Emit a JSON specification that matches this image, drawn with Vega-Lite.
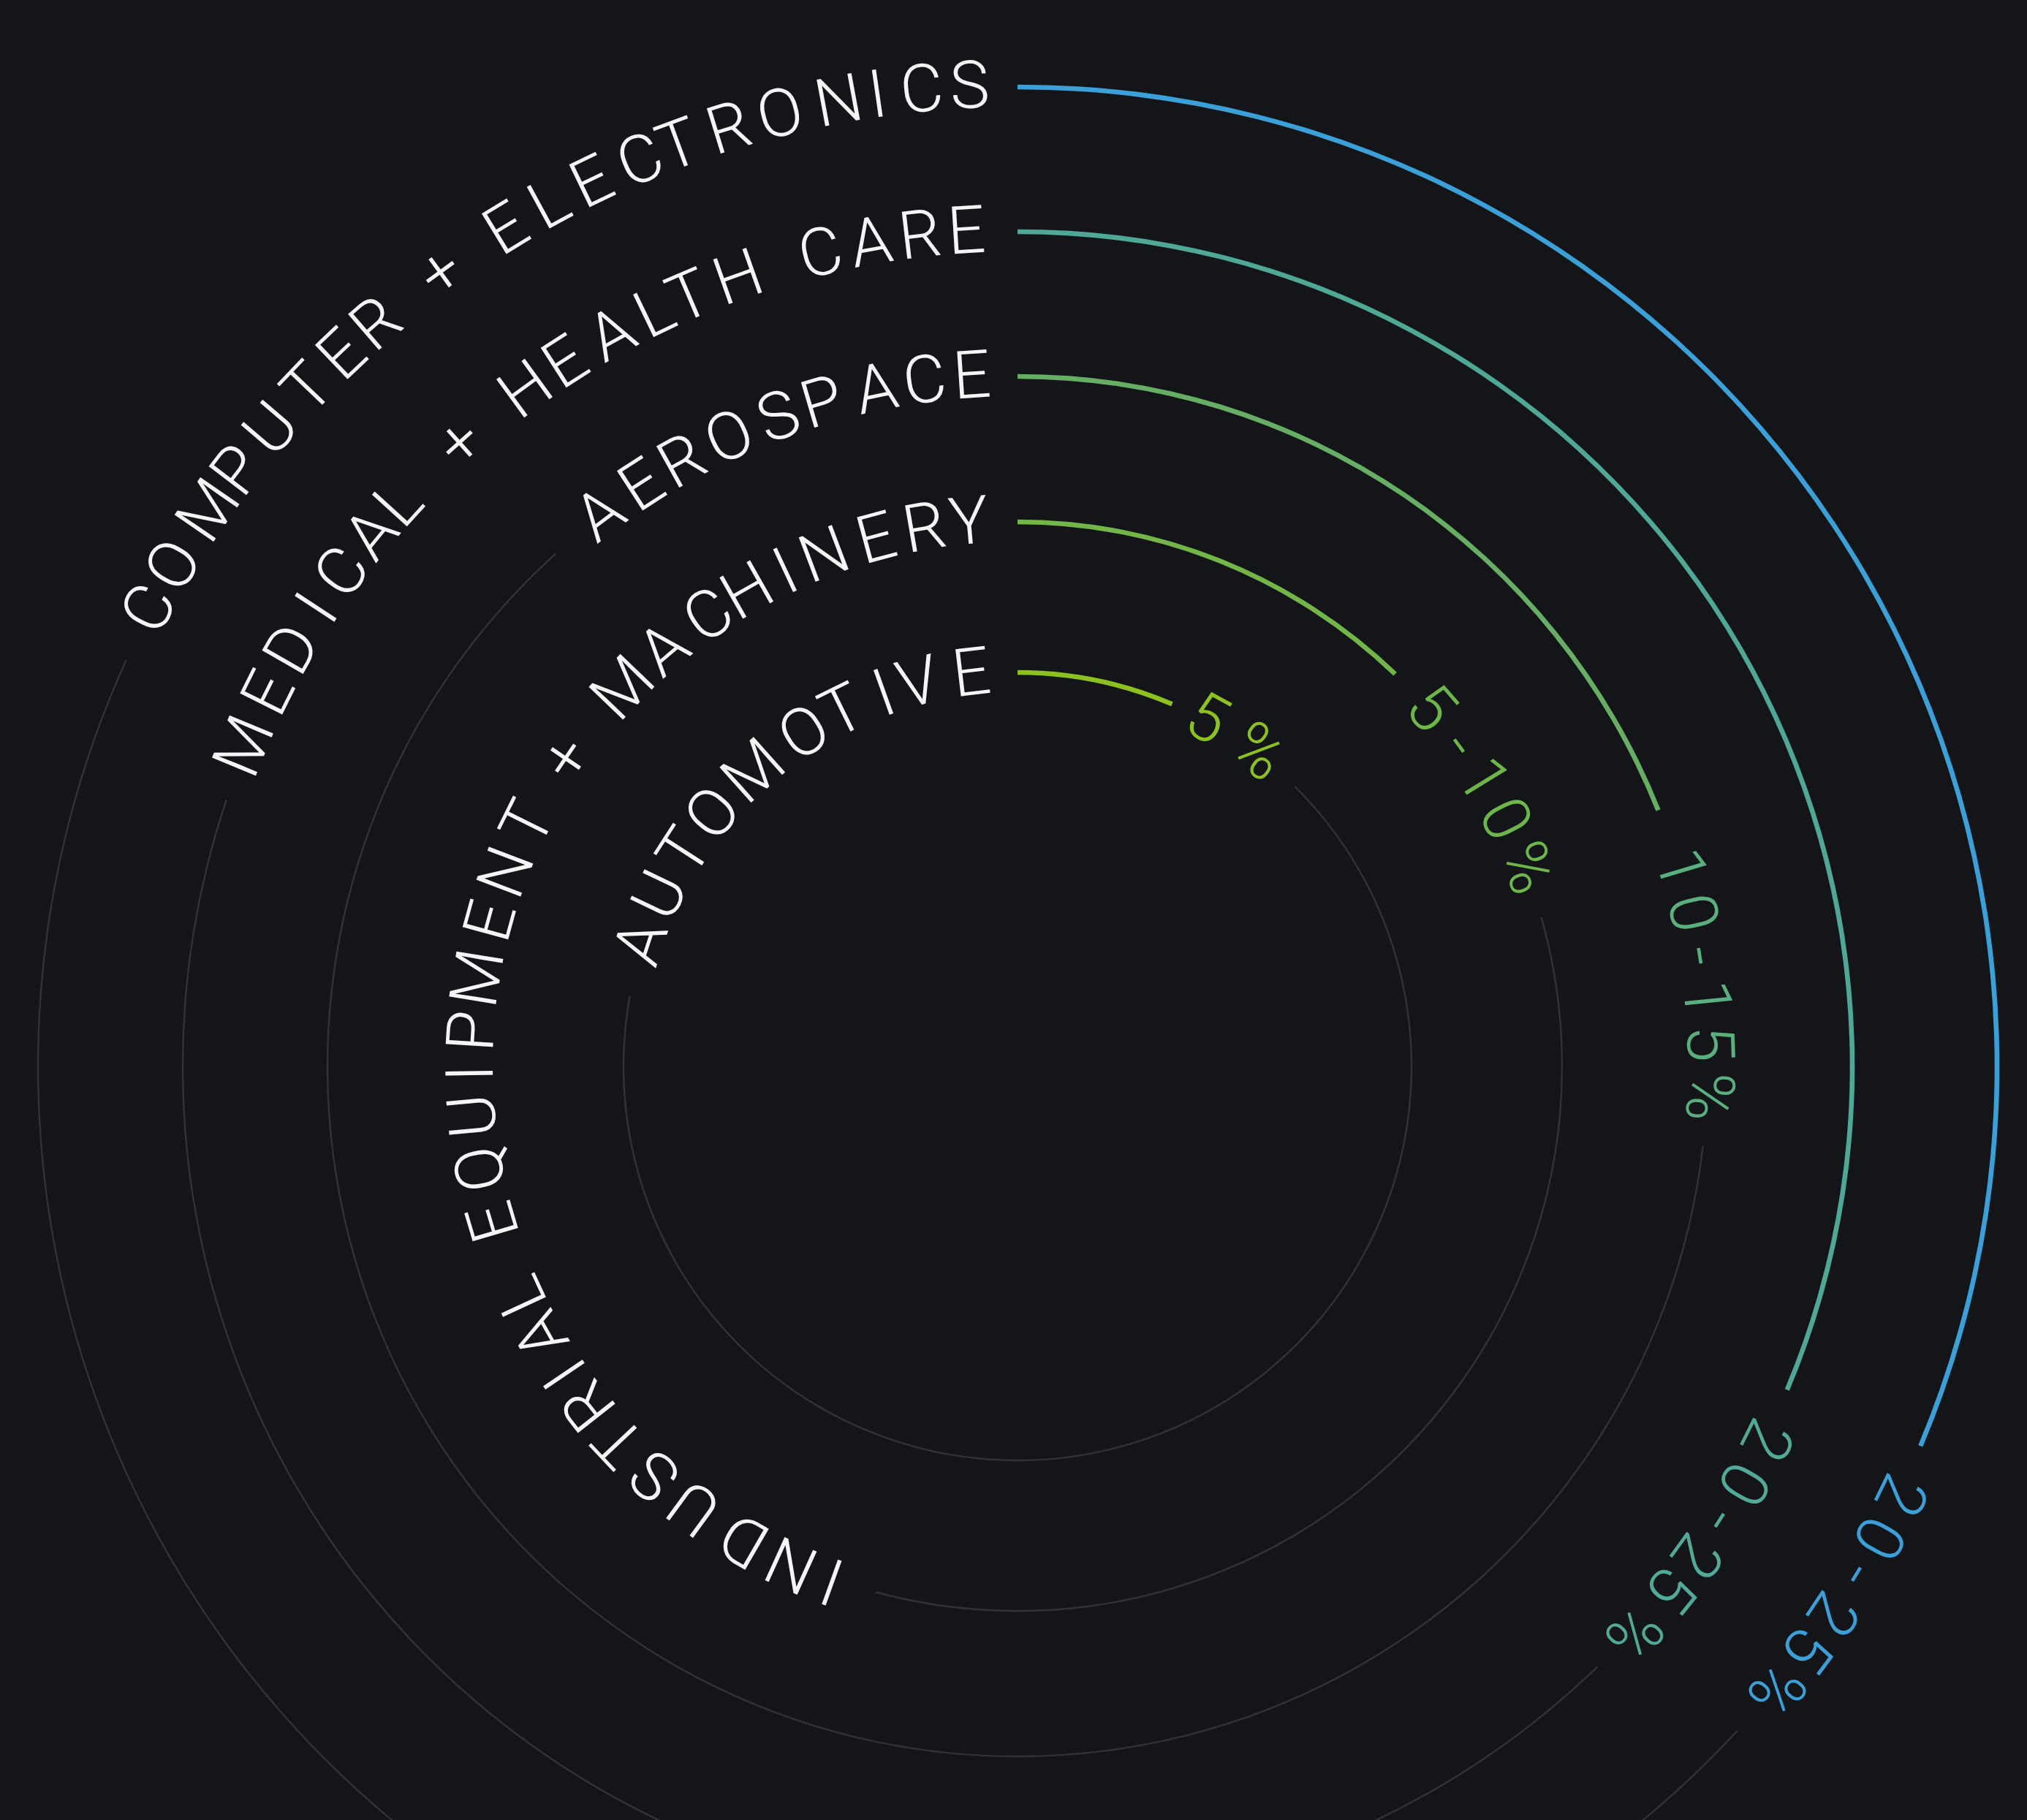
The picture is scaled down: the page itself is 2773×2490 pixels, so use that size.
{
  "$schema": "https://vega.github.io/schema/vega-lite/v6.json",
  "width": 2762,
  "height": 2062,
  "padding": {"left": 11, "top": 428, "right": 0, "bottom": 0},
  "autosize": {"type": "none"},
  "background": "#141519",
  "config": {"view": {"stroke": null}},
  "datasets": {
    "tracks": [
      {"ring": 1, "start": 44.7, "end": 280.3},
      {"ring": 2, "start": 74.1, "end": 195.1},
      {"ring": 3, "start": 96.6, "end": 318.0},
      {"ring": 4, "start": 136.0, "end": 288.6},
      {"ring": 5, "start": 132.7, "end": 294.5}
    ],
    "values": [
      {"ring": 1, "sector": "AUTOMOTIVE", "share": "5%", "start": 0, "end": 23.1},
      {"ring": 2, "sector": "INDUSTRIAL EQUIPMENT + MACHINERY", "share": "5-10%", "start": 0, "end": 43.9},
      {"ring": 3, "sector": "AEROSPACE", "share": "10-15%", "start": 0, "end": 68.2},
      {"ring": 4, "sector": "MEDICAL + HEALTH CARE", "share": "20-25%", "start": 0, "end": 112.8},
      {"ring": 5, "sector": "COMPUTER + ELECTRONICS", "share": "20-25%", "start": 0, "end": 112.8}
    ],
    "names": [
      {"ring": 5, "ch": "C", "t": -62.2}, {"ring": 5, "ch": "O", "t": -59.3}, {"ring": 5, "ch": "M", "t": -55.5},
      {"ring": 5, "ch": "P", "t": -52.6}, {"ring": 5, "ch": "U", "t": -49.5}, {"ring": 5, "ch": "T", "t": -46.3},
      {"ring": 5, "ch": "E", "t": -43.5}, {"ring": 5, "ch": "R", "t": -40.8}, {"ring": 5, "ch": "+", "t": -36.0},
      {"ring": 5, "ch": "E", "t": -31.4}, {"ring": 5, "ch": "L", "t": -28.5}, {"ring": 5, "ch": "E", "t": -25.7},
      {"ring": 5, "ch": "C", "t": -22.6}, {"ring": 5, "ch": "T", "t": -20.2}, {"ring": 5, "ch": "R", "t": -17.1},
      {"ring": 5, "ch": "O", "t": -14.0}, {"ring": 5, "ch": "N", "t": -10.5}, {"ring": 5, "ch": "I", "t": -8.2},
      {"ring": 5, "ch": "C", "t": -5.6}, {"ring": 5, "ch": "S", "t": -2.8},

      {"ring": 4, "ch": "M", "t": -67.5}, {"ring": 4, "ch": "E", "t": -63.5}, {"ring": 4, "ch": "D", "t": -60.1},
      {"ring": 4, "ch": "I", "t": -56.8}, {"ring": 4, "ch": "C", "t": -53.8}, {"ring": 4, "ch": "A", "t": -50.5},
      {"ring": 4, "ch": "L", "t": -47.7}, {"ring": 4, "ch": "+", "t": -41.8}, {"ring": 4, "ch": "H", "t": -36.0},
      {"ring": 4, "ch": "E", "t": -32.7}, {"ring": 4, "ch": "A", "t": -29.0}, {"ring": 4, "ch": "L", "t": -25.7},
      {"ring": 4, "ch": "T", "t": -23.1}, {"ring": 4, "ch": "H", "t": -19.5}, {"ring": 4, "ch": "C", "t": -13.6},
      {"ring": 4, "ch": "A", "t": -10.1}, {"ring": 4, "ch": "R", "t": -6.7}, {"ring": 4, "ch": "E", "t": -3.5},

      {"ring": 3, "ch": "A", "t": -37.1}, {"ring": 3, "ch": "E", "t": -32.9}, {"ring": 3, "ch": "R", "t": -29.0},
      {"ring": 3, "ch": "O", "t": -24.6}, {"ring": 3, "ch": "S", "t": -20.2}, {"ring": 3, "ch": "P", "t": -16.4},
      {"ring": 3, "ch": "A", "t": -11.8}, {"ring": 3, "ch": "C", "t": -7.7}, {"ring": 3, "ch": "E", "t": -3.8},

      {"ring": 2, "ch": "I", "t": -160.2}, {"ring": 2, "ch": "N", "t": -155.6}, {"ring": 2, "ch": "D", "t": -150.0},
      {"ring": 2, "ch": "U", "t": -143.8}, {"ring": 2, "ch": "S", "t": -138.5}, {"ring": 2, "ch": "T", "t": -133.3},
      {"ring": 2, "ch": "R", "t": -128.3}, {"ring": 2, "ch": "I", "t": -124.2}, {"ring": 2, "ch": "A", "t": -119.4},
      {"ring": 2, "ch": "L", "t": -114.8}, {"ring": 2, "ch": "E", "t": -106.5}, {"ring": 2, "ch": "Q", "t": -100.8},
      {"ring": 2, "ch": "U", "t": -95.2}, {"ring": 2, "ch": "I", "t": -90.7}, {"ring": 2, "ch": "P", "t": -86.3},
      {"ring": 2, "ch": "M", "t": -80.7}, {"ring": 2, "ch": "E", "t": -74.6}, {"ring": 2, "ch": "N", "t": -69.2},
      {"ring": 2, "ch": "T", "t": -63.6}, {"ring": 2, "ch": "+", "t": -55.7}, {"ring": 2, "ch": "M", "t": -46.2},
      {"ring": 2, "ch": "A", "t": -40.3}, {"ring": 2, "ch": "C", "t": -34.4}, {"ring": 2, "ch": "H", "t": -29.6},
      {"ring": 2, "ch": "I", "t": -25.1}, {"ring": 2, "ch": "N", "t": -20.7}, {"ring": 2, "ch": "E", "t": -15.0},
      {"ring": 2, "ch": "R", "t": -9.8}, {"ring": 2, "ch": "Y", "t": -5.1},

      {"ring": 1, "ch": "A", "t": -71.8}, {"ring": 1, "ch": "U", "t": -64.4}, {"ring": 1, "ch": "T", "t": -57.2},
      {"ring": 1, "ch": "O", "t": -50.3}, {"ring": 1, "ch": "M", "t": -41.8}, {"ring": 1, "ch": "O", "t": -32.6},
      {"ring": 1, "ch": "T", "t": -26.2}, {"ring": 1, "ch": "I", "t": -19.7}, {"ring": 1, "ch": "V", "t": -14.5},
      {"ring": 1, "ch": "E", "t": -6.7}
    ],
    "pcts": [
      {"ring": 1, "sector": "AUTOMOTIVE", "ch": "5", "t": 28.6}, {"ring": 1, "sector": "AUTOMOTIVE", "ch": "%", "t": 37.4},

      {"ring": 2, "sector": "INDUSTRIAL EQUIPMENT + MACHINERY", "ch": "5", "t": 49.1},
      {"ring": 2, "sector": "INDUSTRIAL EQUIPMENT + MACHINERY", "ch": "-", "t": 54.0},
      {"ring": 2, "sector": "INDUSTRIAL EQUIPMENT + MACHINERY", "ch": "1", "t": 58.4},
      {"ring": 2, "sector": "INDUSTRIAL EQUIPMENT + MACHINERY", "ch": "0", "t": 63.1},
      {"ring": 2, "sector": "INDUSTRIAL EQUIPMENT + MACHINERY", "ch": "%", "t": 68.7},

      {"ring": 3, "sector": "AEROSPACE", "ch": "1", "t": 73.4}, {"ring": 3, "sector": "AEROSPACE", "ch": "0", "t": 77.2},
      {"ring": 3, "sector": "AEROSPACE", "ch": "-", "t": 80.8}, {"ring": 3, "sector": "AEROSPACE", "ch": "1", "t": 84.4},
      {"ring": 3, "sector": "AEROSPACE", "ch": "5", "t": 88.1}, {"ring": 3, "sector": "AEROSPACE", "ch": "%", "t": 92.5},

      {"ring": 4, "sector": "MEDICAL + HEALTH CARE", "ch": "2", "t": 116.5}, {"ring": 4, "sector": "MEDICAL + HEALTH CARE", "ch": "0", "t": 119.9},
      {"ring": 4, "sector": "MEDICAL + HEALTH CARE", "ch": "-", "t": 122.9}, {"ring": 4, "sector": "MEDICAL + HEALTH CARE", "ch": "2", "t": 125.8},
      {"ring": 4, "sector": "MEDICAL + HEALTH CARE", "ch": "5", "t": 128.6}, {"ring": 4, "sector": "MEDICAL + HEALTH CARE", "ch": "%", "t": 132.6},

      {"ring": 5, "sector": "COMPUTER + ELECTRONICS", "ch": "2", "t": 115.9}, {"ring": 5, "sector": "COMPUTER + ELECTRONICS", "ch": "0", "t": 118.7},
      {"ring": 5, "sector": "COMPUTER + ELECTRONICS", "ch": "-", "t": 121.2}, {"ring": 5, "sector": "COMPUTER + ELECTRONICS", "ch": "2", "t": 123.9},
      {"ring": 5, "sector": "COMPUTER + ELECTRONICS", "ch": "5", "t": 126.4}, {"ring": 5, "sector": "COMPUTER + ELECTRONICS", "ch": "%", "t": 129.4}
    ]
  },
  "layer": [
    {
      "data": {"name": "tracks"},
      "mark": {"type": "arc", "fill": "#303238", "radiusOffset": 1.2, "radius2Offset": -1.2},
      "encoding": {
        "theta": {"field": "start", "type": "quantitative", "stack": false, "scale": {"domain": [-180, 180], "range": [-3.141592654, 3.141592654]}},
        "theta2": {"field": "end"},
        "radius": {"field": "ring", "type": "quantitative", "scale": {"type": "linear", "domain": [1, 2, 3, 4, 5], "range": [539, 745, 944, 1142, 1340], "zero": false}},
        "radius2": {"field": "ring"}
      }
    },
    {
      "data": {"name": "values"},
      "mark": {"type": "arc", "radiusOffset": 3.3, "radius2Offset": -3.3},
      "encoding": {
        "theta": {"field": "start", "type": "quantitative", "stack": false, "scale": {"domain": [-180, 180], "range": [-3.141592654, 3.141592654]}},
        "theta2": {"field": "end"},
        "radius": {"field": "ring", "type": "quantitative", "scale": {"type": "linear", "domain": [1, 2, 3, 4, 5], "range": [539, 745, 944, 1142, 1340], "zero": false}},
        "radius2": {"field": "ring"},
        "color": {
          "field": "sector", "type": "nominal", "legend": null,
          "scale": {
            "domain": ["AUTOMOTIVE", "INDUSTRIAL EQUIPMENT + MACHINERY", "AEROSPACE", "MEDICAL + HEALTH CARE", "COMPUTER + ELECTRONICS"],
            "range": ["#8cc120", "#72b64a", "#66ae64", "#4fa796", "#3b9fd8"]
          }
        }
      }
    },
    {
      "data": {"name": "names"},
      "mark": {"type": "text", "font": "Roboto", "fontWeight": 300, "fontSize": 91, "color": "#f5f5f5", "align": "center", "baseline": "middle"},
      "encoding": {
        "theta": {"field": "t", "type": "quantitative", "stack": false, "scale": {"domain": [-180, 180], "range": [-3.141592654, 3.141592654]}},
        "radius": {"field": "ring", "type": "quantitative", "scale": {"type": "linear", "domain": [1, 2, 3, 4, 5], "range": [539, 745, 944, 1142, 1340], "zero": false}},
        "angle": {"field": "t", "type": "quantitative", "scale": {"domain": [-180, 180], "range": [-180, 180]}},
        "text": {"field": "ch"}
      }
    },
    {
      "data": {"name": "pcts"},
      "mark": {"type": "text", "font": "Roboto", "fontWeight": 300, "fontSize": 91, "align": "center", "baseline": "middle"},
      "encoding": {
        "theta": {"field": "t", "type": "quantitative", "stack": false, "scale": {"domain": [-180, 180], "range": [-3.141592654, 3.141592654]}},
        "radius": {"field": "ring", "type": "quantitative", "scale": {"type": "linear", "domain": [1, 2, 3, 4, 5], "range": [539, 745, 944, 1142, 1340], "zero": false}},
        "angle": {"field": "t", "type": "quantitative", "scale": {"domain": [-180, 180], "range": [-180, 180]}},
        "text": {"field": "ch"},
        "fill": {
          "field": "sector", "type": "nominal", "legend": null,
          "scale": {
            "domain": ["AUTOMOTIVE", "INDUSTRIAL EQUIPMENT + MACHINERY", "AEROSPACE", "MEDICAL + HEALTH CARE", "COMPUTER + ELECTRONICS"],
            "range": ["#8cc120", "#6cb64c", "#5aaf7e", "#52a998", "#3b9fd8"]
          }
        }
      }
    }
  ]
}
